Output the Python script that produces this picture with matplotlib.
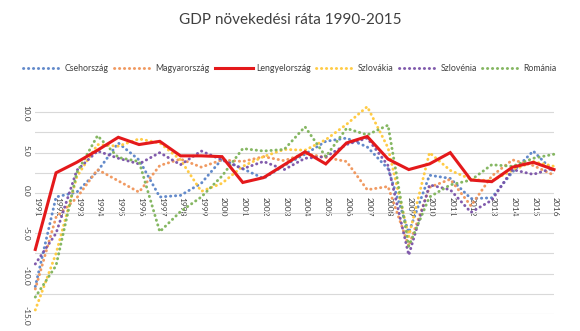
import matplotlib
matplotlib.use("Agg")
import matplotlib.pyplot as plt
import matplotlib.transforms as mtransforms

years = [str(y) for y in range(1991, 2017)]

cseh = [-11.6, -0.5, 0.1, 2.7, 6.2, 4.1, -0.5, -0.3, 1.2, 4.2, 3.0, 1.8, 3.4, 4.8,
        6.4, 6.8, 5.7, 3.0, -4.9, 2.2, 1.8, -0.7, -0.6, 2.6, 5.2, 2.6]
magyar = [-11.9, -3.0, -0.6, 2.9, 1.5, 0.1, 3.4, 4.2, 3.2, 4.1, 3.9, 4.5, 4.0, 4.9,
          4.4, 3.9, 0.4, 0.8, -6.6, 0.7, 1.7, -1.6, 2.1, 4.1, 3.4, 2.2]
lengyel = [-7.0, 2.5, 3.8, 5.3, 6.9, 6.0, 6.4, 4.6, 4.6, 4.5, 1.3, 1.9, 3.5, 5.1,
           3.6, 6.2, 7.0, 4.2, 2.9, 3.6, 5.0, 1.6, 1.4, 3.2, 3.8, 2.9]
szlovakia = [-14.5, -7.5, 2.0, 6.0, 5.8, 6.7, 6.2, 4.1, 0.2, 1.2, 3.3, 4.5, 5.4, 5.3,
             6.6, 8.5, 10.7, 5.6, -5.4, 5.0, 2.8, 1.7, 1.5, 2.8, 3.9, 3.3]
szlovenia = [-8.8, -5.0, 2.8, 5.2, 4.3, 3.6, 5.0, 3.5, 5.2, 4.1, 3.0, 3.9, 2.9, 4.3,
             4.5, 6.0, 6.8, 3.4, -7.7, 1.0, 0.4, -2.4, -0.9, 2.9, 2.3, 3.1]
romania = [-12.9, -9.0, 2.5, 7.1, 4.4, 3.9, -4.8, -2.3, -0.5, 2.1, 5.5, 5.2, 5.4, 8.2,
           4.5, 8.0, 7.2, 8.4, -6.6, -0.5, 1.0, 1.6, 3.5, 3.3, 4.3, 4.8]

series = [
    ("Csehország", cseh, "#5B84C8", "dot"),
    ("Magyarország", magyar, "#F0955A", "dot"),
    ("Lengyelország", lengyel, "#E4191B", "solid"),
    ("Szlovákia", szlovakia, "#FFC93C", "dot"),
    ("Szlovénia", szlovenia, "#7A52A8", "dot"),
    ("Románia", romania, "#7FB35A", "dot"),
]

plt.rcParams['font.family'] = ['Lato', 'DejaVu Sans']

fig = plt.figure(figsize=(5.8, 3.31), dpi=100)
ax = fig.add_axes([35.3 / 580, 17 / 331, (554 - 35.3) / 580, (314 - 91.3) / 331])

x = list(range(len(years)))
for name, vals, color, style in series:
    if style == "solid":
        ax.plot(x, vals, color=color, lw=2.2, label=name, zorder=5,
                solid_joinstyle='miter', clip_on=False)
    else:
        ax.plot(x, vals, color=color, lw=2.1, linestyle=(0, (0.1, 1.6)),
                dash_capstyle='round', label=name, zorder=3, alpha=0.95, clip_on=False)

ax.set_xlim(0, len(years) - 1)
ax.set_ylim(-15, 12.6)

for s in ax.spines.values():
    s.set_visible(False)
ax.spines['bottom'].set_position(('data', 0))

yt = [-15, -12.5, -10, -7.5, -5, -2.5, 0, 2.5, 5, 7.5, 10]
ylabels = [f"{v:.1f}" if v % 5 == 0 else "" for v in yt]
ax.set_yticks(yt)
ax.set_yticklabels(ylabels, rotation=-90, fontsize=6, color="#404040")
ax.tick_params(axis='y', length=0, pad=4)
off = mtransforms.ScaledTranslation(0, 4.5 / 100, fig.dpi_scale_trans)
for lab in ax.get_yticklabels():
    lab.set_transform(lab.get_transform() + off)

ax.set_xticks(x)
ax.set_xticklabels(years, rotation=-90, fontsize=6, color="#404040")
ax.tick_params(axis='x', length=0, pad=3)
offx = mtransforms.ScaledTranslation(1.5 / 100, 0, fig.dpi_scale_trans)
for lab in ax.get_xticklabels():
    lab.set_transform(lab.get_transform() + offx)

ax.grid(axis='y', color="#D9D9D9", lw=0.8)
ax.set_axisbelow(True)

fig.text(0.5, 1 - 20 / 331, "GDP növekedési ráta 1990-2015", ha='center', va='center',
         fontsize=11, color="#404040")

fig.legend(loc='center', bbox_to_anchor=(0.5, 1 - 68.7 / 331), ncol=6, frameon=False,
           fontsize=6.3, handlelength=4.3, handletextpad=0.45, columnspacing=0.6,
           labelcolor="#404040")

fig.savefig("out.png", dpi=100)
